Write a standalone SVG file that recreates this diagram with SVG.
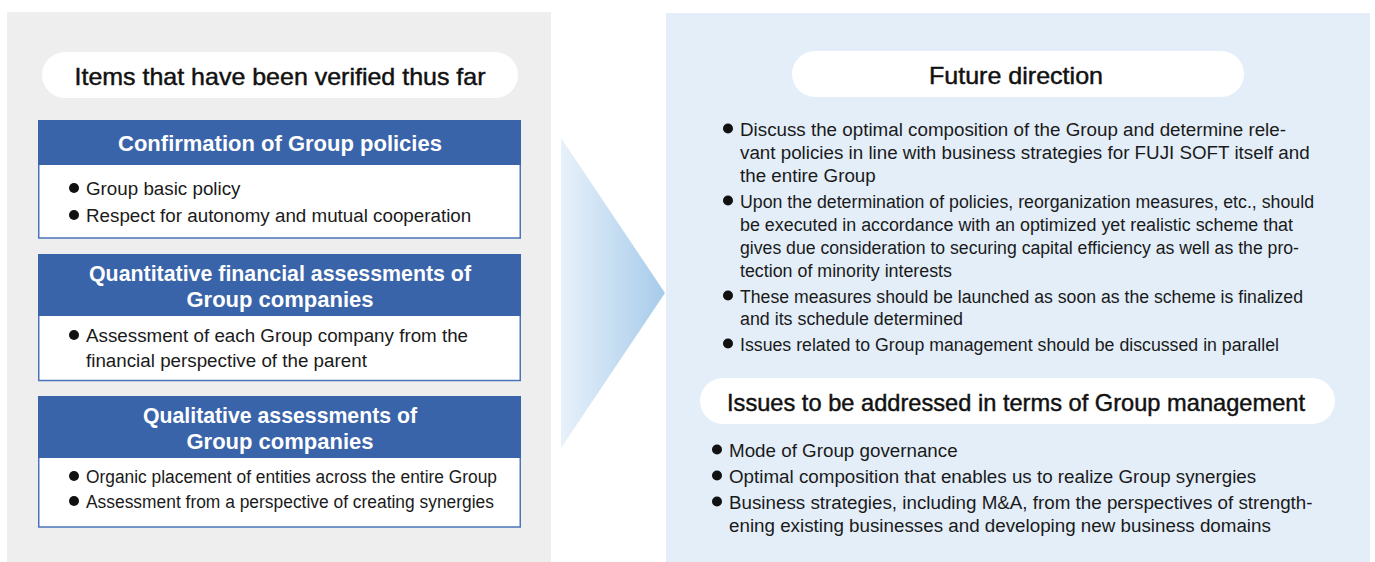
<svg xmlns="http://www.w3.org/2000/svg" width="1375" height="562" viewBox="0 0 1375 562">
<defs>
<linearGradient id="arrowGrad" x1="0" y1="0" x2="1" y2="0">
<stop offset="0" stop-color="#e8f1fa"/>
<stop offset="1" stop-color="#a6cbea"/>
</linearGradient>
<style>
.pill{fill:#ffffff}
.ttl{font-family:"Liberation Sans",Arial,sans-serif;font-size:24px;fill:#111111;stroke:#111111;stroke-width:0.45;text-anchor:middle}
.hdr{fill:#3a64aa}
.body{fill:#ffffff;stroke:#4a74ba;stroke-width:1.5}
.htx{font-family:"Liberation Sans",Arial,sans-serif;font-size:22px;font-weight:bold;fill:#ffffff;text-anchor:middle}
.tx{font-family:"Liberation Sans",Arial,sans-serif;font-size:18.8px;fill:#1a1a1a}
.dot{fill:#111111}
</style>
</defs>
<rect x="7" y="12" width="544" height="550" fill="#eeeeee"/>
<rect x="666" y="13" width="704" height="549" fill="#e3eef9"/>

<g id="connectors">
<polygon points="561,138 665,293 561,448" fill="url(#arrowGrad)"/>
</g>

<g id="title-left">
<rect class="pill" x="42" y="52" width="476" height="46" rx="23"/>
<text class="ttl" x="280" y="85" textLength="411" lengthAdjust="spacingAndGlyphs">Items that have been verified thus far</text>
</g>

<g id="box-policies">
<rect class="body" x="38.75" y="164" width="481.5" height="74"/>
<rect class="hdr" x="38" y="120" width="483" height="45"/>
<text class="htx" x="280" y="151">Confirmation of Group policies</text>
<circle class="dot" cx="74" cy="188" r="5"/>
<text class="tx" x="86" y="195">Group basic policy</text>
<circle class="dot" cx="74" cy="215" r="5"/>
<text class="tx" x="86" y="222">Respect for autonomy and mutual cooperation</text>
</g>

<g id="box-quantitative">
<rect class="body" x="38.75" y="315" width="481.5" height="65.5"/>
<rect class="hdr" x="38" y="254" width="483" height="62"/>
<text class="htx" x="280" y="281" textLength="382" lengthAdjust="spacingAndGlyphs">Quantitative financial assessments of</text>
<text class="htx" x="280" y="307">Group companies</text>
<circle class="dot" cx="74" cy="335" r="5"/>
<text class="tx" x="86" y="342">Assessment of each Group company from the</text>
<text class="tx" x="86" y="367">financial perspective of the parent</text>
</g>

<g id="box-qualitative">
<rect class="body" x="38.75" y="457" width="481.5" height="70"/>
<rect class="hdr" x="38" y="396" width="483" height="62"/>
<text class="htx" x="280" y="423" textLength="274" lengthAdjust="spacingAndGlyphs">Qualitative assessments of</text>
<text class="htx" x="280" y="449">Group companies</text>
<circle class="dot" cx="74" cy="476" r="5"/>
<text class="tx" x="86" y="483" textLength="411" lengthAdjust="spacingAndGlyphs">Organic placement of entities across the entire Group</text>
<circle class="dot" cx="74" cy="501" r="5"/>
<text class="tx" x="86" y="508" textLength="408" lengthAdjust="spacingAndGlyphs">Assessment from a perspective of creating synergies</text>
</g>

<g id="future-direction">
<rect class="pill" x="792" y="51" width="452" height="46" rx="23"/>
<text class="ttl" x="1016" y="84" textLength="174" lengthAdjust="spacingAndGlyphs">Future direction</text>
<circle class="dot" cx="728" cy="128.5" r="5"/>
<text class="tx" x="740" y="136">Discuss the optimal composition of the Group and determine rele-</text>
<text class="tx" x="740" y="159">vant policies in line with business strategies for FUJI SOFT itself and</text>
<text class="tx" x="740" y="182">the entire Group</text>
<circle class="dot" cx="728" cy="200.5" r="5"/>
<text class="tx" x="740" y="208" textLength="574" lengthAdjust="spacingAndGlyphs">Upon the determination of policies, reorganization measures, etc., should</text>
<text class="tx" x="740" y="231" textLength="553" lengthAdjust="spacingAndGlyphs">be executed in accordance with an optimized yet realistic scheme that</text>
<text class="tx" x="740" y="254" textLength="559" lengthAdjust="spacingAndGlyphs">gives due consideration to securing capital efficiency as well as the pro-</text>
<text class="tx" x="740" y="277" textLength="212" lengthAdjust="spacingAndGlyphs">tection of minority interests</text>
<circle class="dot" cx="728" cy="295.5" r="5"/>
<text class="tx" x="740" y="303" textLength="563" lengthAdjust="spacingAndGlyphs">These measures should be launched as soon as the scheme is finalized</text>
<text class="tx" x="740" y="325" textLength="223" lengthAdjust="spacingAndGlyphs">and its schedule determined</text>
<circle class="dot" cx="728" cy="343.5" r="5"/>
<text class="tx" x="740" y="351" textLength="539" lengthAdjust="spacingAndGlyphs">Issues related to Group management should be discussed in parallel</text>
</g>

<g id="group-management-issues">
<rect class="pill" x="700" y="378" width="635" height="46" rx="23"/>
<text class="ttl" x="1016" y="411" textLength="578" lengthAdjust="spacingAndGlyphs">Issues to be addressed in terms of Group management</text>
<circle class="dot" cx="717" cy="449.5" r="5"/>
<text class="tx" x="729" y="457">Mode of Group governance</text>
<circle class="dot" cx="717" cy="475.5" r="5"/>
<text class="tx" x="729" y="483">Optimal composition that enables us to realize Group synergies</text>
<circle class="dot" cx="717" cy="501.5" r="5"/>
<text class="tx" x="729" y="509">Business strategies, including M&amp;A, from the perspectives of strength-</text>
<text class="tx" x="729" y="532">ening existing businesses and developing new business domains</text>
</g>
</svg>
